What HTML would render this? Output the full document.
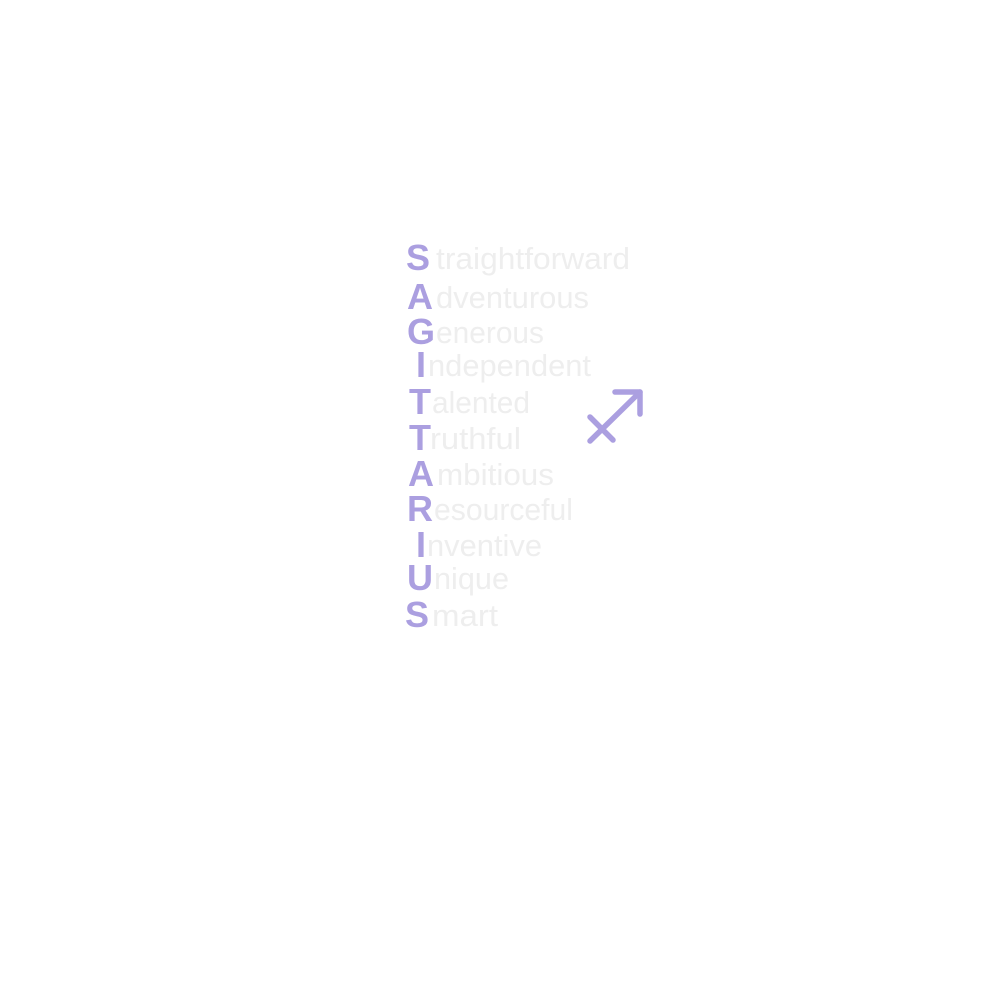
<!DOCTYPE html>
<html><head><meta charset="utf-8"><style>html,body{margin:0;padding:0;background:#fff;width:1000px;height:1000px;overflow:hidden}</style></head>
<body>
<svg width="1000" height="1000" xmlns="http://www.w3.org/2000/svg" style="position:absolute;left:0;top:0">
<g font-family="Liberation Sans, sans-serif">
<g fill="#ab9fe0" font-weight="bold" font-size="36">
<text x="406" y="270">S</text>
<text x="407" y="309">A</text>
<text x="407" y="344">G</text>
<text x="416" y="377">I</text>
<text x="409" y="414">T</text>
<text x="409" y="450">T</text>
<text x="408" y="486">A</text>
<text x="407" y="521">R</text>
<text x="416" y="557">I</text>
<text x="407" y="590">U</text>
<text x="405" y="627">S</text>
</g>
<g fill="#eeeeee" font-size="31">
<text x="436" y="269" textLength="194" lengthAdjust="spacingAndGlyphs">traightforward</text>
<text x="436" y="308" textLength="153" lengthAdjust="spacingAndGlyphs">dventurous</text>
<text x="436" y="343" textLength="108" lengthAdjust="spacingAndGlyphs">enerous</text>
<text x="428" y="376" textLength="163" lengthAdjust="spacingAndGlyphs">ndependent</text>
<text x="432" y="413" textLength="98" lengthAdjust="spacingAndGlyphs">alented</text>
<text x="430" y="449" textLength="91" lengthAdjust="spacingAndGlyphs">ruthful</text>
<text x="437" y="485" textLength="117" lengthAdjust="spacingAndGlyphs">mbitious</text>
<text x="434" y="520" textLength="139" lengthAdjust="spacingAndGlyphs">esourceful</text>
<text x="427" y="556" textLength="115" lengthAdjust="spacingAndGlyphs">nventive</text>
<text x="434" y="589" textLength="75" lengthAdjust="spacingAndGlyphs">nique</text>
<text x="432" y="626" textLength="66" lengthAdjust="spacingAndGlyphs">mart</text>
</g>
</g>
<g stroke="#ab9fe0" stroke-width="5.5" stroke-linecap="round" stroke-linejoin="round" fill="none">
<path d="M615 392 L640 392 L640 414"/>
<path d="M640 392 L590 441"/>
<path d="M590 417 L613 440"/>
</g>
</svg>
</body></html>
